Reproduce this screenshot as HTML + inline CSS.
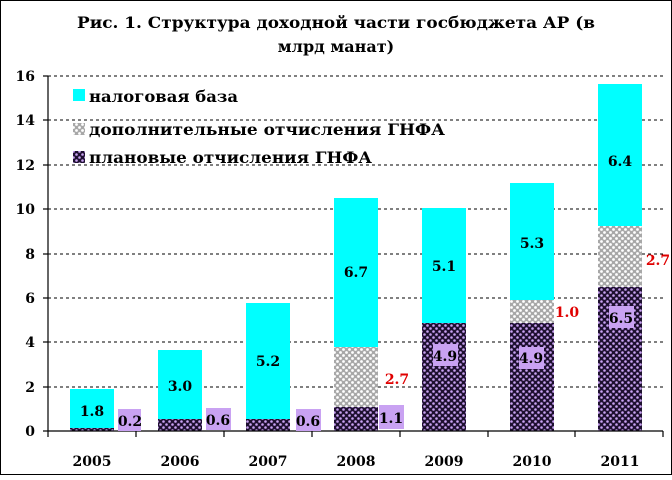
<!DOCTYPE html>
<html><head><meta charset="utf-8"><style>
html,body{margin:0;padding:0;background:#fff}
svg text{font-family:"DejaVu Serif","Liberation Serif",serif;font-weight:bold}
</style></head><body>
<svg width="672" height="475" xmlns="http://www.w3.org/2000/svg">
<defs>
<pattern id="pl" width="6" height="6" patternUnits="userSpaceOnUse">
<rect width="6" height="6" fill="#1e1030"/>
<circle cx="1.5" cy="1.5" r="1.3" fill="#c9a2f2"/>
<circle cx="4.5" cy="4.5" r="1.3" fill="#c9a2f2"/>
</pattern>
<pattern id="ad" width="6" height="6" patternUnits="userSpaceOnUse">
<rect width="6" height="6" fill="#a8a8a8"/>
<circle cx="1.5" cy="1.5" r="1.4" fill="#fff"/>
<circle cx="4.5" cy="4.5" r="1.4" fill="#fff"/>
</pattern>
</defs>
<rect x="0.5" y="0.5" width="671" height="474" fill="#fff" stroke="#000"/>
<text x="336" y="28" font-size="16" text-anchor="middle" textLength="518" lengthAdjust="spacingAndGlyphs">Рис. 1. Структура доходной части госбюджета АР (в</text>
<text x="336" y="52" font-size="16" text-anchor="middle">млрд манат)</text>
<g stroke="#000" stroke-dasharray="3,3" stroke-width="1">
<line x1="48" y1="76" x2="663" y2="76"/><line x1="48" y1="120" x2="663" y2="120"/>
<line x1="48" y1="165" x2="663" y2="165"/><line x1="48" y1="209" x2="663" y2="209"/>
<line x1="48" y1="254" x2="663" y2="254"/><line x1="48" y1="298" x2="663" y2="298"/>
<line x1="48" y1="342" x2="663" y2="342"/><line x1="48" y1="387" x2="663" y2="387"/>
</g>
<g font-size="14" text-anchor="end">
<text x="35" y="81">16</text><text x="35" y="125">14</text><text x="35" y="170">12</text>
<text x="35" y="214">10</text><text x="35" y="259">8</text><text x="35" y="303">6</text>
<text x="35" y="347">4</text><text x="35" y="392">2</text><text x="35" y="436">0</text>
</g>
<rect x="70" y="389" width="44" height="39" fill="#00ffff"/><rect x="70" y="428" width="44" height="3" fill="url(#pl)"/>
<rect x="158" y="350" width="44" height="69" fill="#00ffff"/><rect x="158" y="419" width="44" height="12" fill="url(#pl)"/>
<rect x="246" y="303" width="44" height="116" fill="#00ffff"/><rect x="246" y="419" width="44" height="12" fill="url(#pl)"/>
<rect x="334" y="198" width="44" height="149" fill="#00ffff"/><rect x="334" y="347" width="44" height="60" fill="url(#ad)"/><rect x="334" y="407" width="44" height="24" fill="url(#pl)"/>
<rect x="422" y="208" width="44" height="115" fill="#00ffff"/><rect x="422" y="323" width="44" height="108" fill="url(#pl)"/>
<rect x="510" y="183" width="44" height="117" fill="#00ffff"/><rect x="510" y="300" width="44" height="23" fill="url(#ad)"/><rect x="510" y="323" width="44" height="108" fill="url(#pl)"/>
<rect x="598" y="84" width="44" height="142" fill="#00ffff"/><rect x="598" y="226" width="44" height="61" fill="url(#ad)"/><rect x="598" y="287" width="44" height="144" fill="url(#pl)"/>
<g stroke="#000" stroke-width="1.2">
<line x1="48" y1="76" x2="48" y2="431"/><line x1="48" y1="431" x2="663" y2="431"/>
<line x1="43" y1="76" x2="48" y2="76"/><line x1="43" y1="120" x2="48" y2="120"/><line x1="43" y1="165" x2="48" y2="165"/>
<line x1="43" y1="209" x2="48" y2="209"/><line x1="43" y1="254" x2="48" y2="254"/><line x1="43" y1="298" x2="48" y2="298"/>
<line x1="43" y1="342" x2="48" y2="342"/><line x1="43" y1="387" x2="48" y2="387"/><line x1="43" y1="431" x2="48" y2="431"/>
<line x1="48" y1="431" x2="48" y2="437"/><line x1="136" y1="431" x2="136" y2="437"/><line x1="224" y1="431" x2="224" y2="437"/>
<line x1="312" y1="431" x2="312" y2="437"/><line x1="400" y1="431" x2="400" y2="437"/><line x1="488" y1="431" x2="488" y2="437"/>
<line x1="575" y1="431" x2="575" y2="437"/><line x1="663" y1="431" x2="663" y2="437"/>
</g>
<g font-size="14" text-anchor="middle">
<text x="92" y="466">2005</text><text x="180" y="466">2006</text><text x="268" y="466">2007</text><text x="356" y="466">2008</text>
<text x="444" y="466">2009</text><text x="532" y="466">2010</text><text x="620" y="466">2011</text>
</g>
<g fill="#c9a2f2">
<rect x="118" y="409" width="23" height="22"/><rect x="206" y="408" width="25" height="22"/>
<rect x="296" y="409" width="25" height="22"/><rect x="379" y="405" width="25" height="24"/>
<rect x="433" y="344" width="25" height="22"/><rect x="519" y="347" width="25" height="22"/><rect x="609" y="306" width="25" height="22"/>
</g>
<g font-size="14" text-anchor="middle">
<text x="92" y="416">1.8</text><text x="130" y="426">0.2</text>
<text x="180" y="391">3.0</text><text x="218" y="425">0.6</text>
<text x="268" y="366">5.2</text><text x="308" y="426">0.6</text>
<text x="356" y="277">6.7</text><text x="391" y="423">1.1</text>
<text x="444" y="271">5.1</text><text x="445" y="361">4.9</text>
<text x="532" y="248">5.3</text><text x="531" y="363">4.9</text>
<text x="620" y="166">6.4</text><text x="621" y="323">6.5</text>
</g>
<g font-size="14" fill="#e00000" text-anchor="middle">
<text x="397" y="384">2.7</text><text x="567" y="317">1.0</text><text x="658" y="265">2.7</text>
</g>
<rect x="73" y="89" width="12" height="12" fill="#00ffff"/>
<rect x="73" y="123" width="12" height="12" fill="url(#ad)"/>
<rect x="73" y="151" width="12" height="12" fill="url(#pl)"/>
<g font-size="16">
<text x="89" y="102" textLength="149" lengthAdjust="spacingAndGlyphs">налоговая база</text>
<text x="89" y="135" textLength="356" lengthAdjust="spacingAndGlyphs">дополнительные отчисления ГНФА</text>
<text x="89" y="163" textLength="283" lengthAdjust="spacingAndGlyphs">плановые отчисления ГНФА</text>
</g>
</svg>
</body></html>
